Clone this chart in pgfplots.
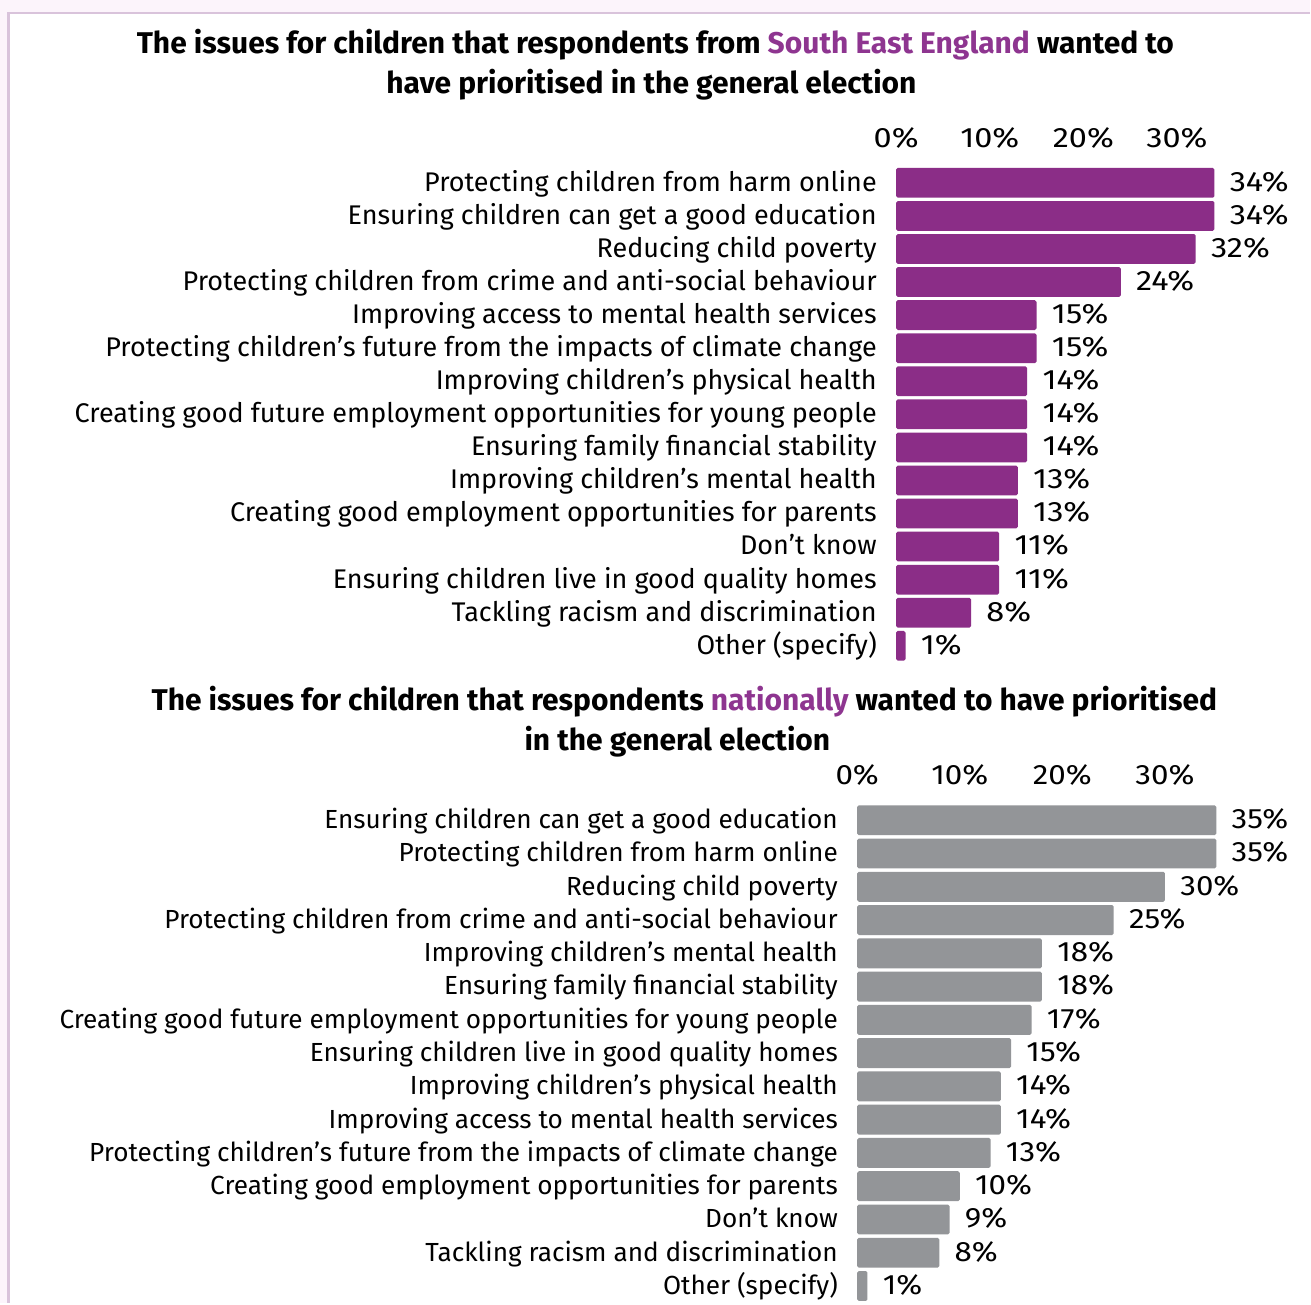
\documentclass[border=0pt]{standalone}
\usepackage{pgfplots}
\pgfplotsset{compat=1.18}
\usepackage{fontspec}
\setmainfont{Fira Sans}
\definecolor{barpurple}{HTML}{8B2D87}
\definecolor{titlepurple}{HTML}{8E3590}
\definecolor{bargray}{HTML}{939598}
\definecolor{bgpink}{HTML}{FCF4FB}
\definecolor{framemauve}{HTML}{D9C3DB}
\newcommand{\ttlfont}{\fontsize{15pt}{18pt}\selectfont\bfseries}
\pgfplotsset{
  mybars/.style 2 args={
    scale only axis, clip=false,
    xbar, bar width=0.9, xmin=0, xmax=40, ymin=-0.5, ymax=14.5, y dir=reverse,
    axis line style={draw=none}, major tick length=0pt, tick style={draw=none},
    xtick={0,10,20,30}, xticklabel pos=upper,
    /pgf/number format/assume math mode=true,
    xticklabel={\scalebox{#2}[1]{\pgfmathprintnumber{\tick}\%}},
    xticklabel style={font=\fontsize{14pt}{16pt}\selectfont, anchor=base, yshift=9.5pt, inner sep=0pt},
    ytick={0,...,14},
    yticklabel style={font=\fontsize{#1}{16pt}\selectfont, anchor=east, inner sep=0pt, xshift=-9.5pt, yshift=-0.75pt, text height=0.69em, text depth=0pt},
    point meta=x,
    nodes near coords={\scalebox{#2}[1]{\pgfmathprintnumber{\pgfplotspointmeta}\%}},
    every node near coord/.append style={font=\fontsize{14pt}{16pt}\selectfont, anchor=west, inner sep=0pt, xshift=7.5pt, yshift=-0.75pt, text height=0.69em, text depth=0pt, black},
  }
}
\begin{document}
\begin{tikzpicture}
\fill[bgpink] (0pt,0pt) rectangle (655.5pt,-652pt);
\fill[white] (4.25pt,-6.5pt) rectangle (655.5pt,-652pt);
\draw[framemauve, line width=1.25pt] (4.25pt,-652pt) -- (4.25pt,-6.5pt) -- (655.5pt,-6.5pt);

\node[font=\ttlfont, anchor=base] at (328pt,-26.6pt) {The issues for children that respondents from \textcolor{titlepurple}{South East England} wanted to};
\node[font=\ttlfont, anchor=base] at (326pt,-46.6pt) {have prioritised in the general election};

\begin{axis}[mybars={13.5pt}{1.16}, at={(448.5pt,-83.225pt)}, anchor=north west, width=187.4pt, height=248.25pt,
  yticklabels={{Protecting children from harm online},{Ensuring children can get a good education},{Reducing child poverty},{Protecting children from crime and anti-social behaviour},{Improving access to mental health services},{Protecting children’s future from the impacts of climate change},{Improving children's physical health},{Creating good future employment opportunities for young people},{Ensuring family financial stability},{Improving children’s mental health},{Creating good employment opportunities for parents},{Don’t know},{Ensuring children live in good quality homes},{Tackling racism and discrimination},{Other (specify)}}]
\addplot[fill=barpurple, draw=none, rounded corners=0.8pt] coordinates {
(34,0) (34,1) (32,2) (24,3) (15,4) (15,5) (14,6) (14,7) (14,8) (13,9) (13,10) (11,11) (11,12) (8,13) (1,14)};
\end{axis}

\node[font=\ttlfont, anchor=base] at (342.5pt,-355.4pt) {The issues for children that respondents \textcolor{titlepurple}{nationally} wanted to have prioritised};
\node[font=\ttlfont, anchor=base] at (339pt,-375.4pt) {in the general election};

\begin{axis}[mybars={13.1pt}{1.12}, at={(429pt,-402.175pt)}, anchor=north west, width=205.4pt, height=249.75pt,
  yticklabels={{Ensuring children can get a good education},{Protecting children from harm online},{Reducing child poverty},{Protecting children from crime and anti-social behaviour},{Improving children’s mental health},{Ensuring family financial stability},{Creating good future employment opportunities for young people},{Ensuring children live in good quality homes},{Improving children's physical health},{Improving access to mental health services},{Protecting children’s future from the impacts of climate change},{Creating good employment opportunities for parents},{Don’t know},{Tackling racism and discrimination},{Other (specify)}}]
\addplot[fill=bargray, draw=none, rounded corners=0.8pt] coordinates {
(35,0) (35,1) (30,2) (25,3) (18,4) (18,5) (17,6) (15,7) (14,8) (14,9) (13,10) (10,11) (9,12) (8,13) (1,14)};
\end{axis}
\end{tikzpicture}
\end{document}
